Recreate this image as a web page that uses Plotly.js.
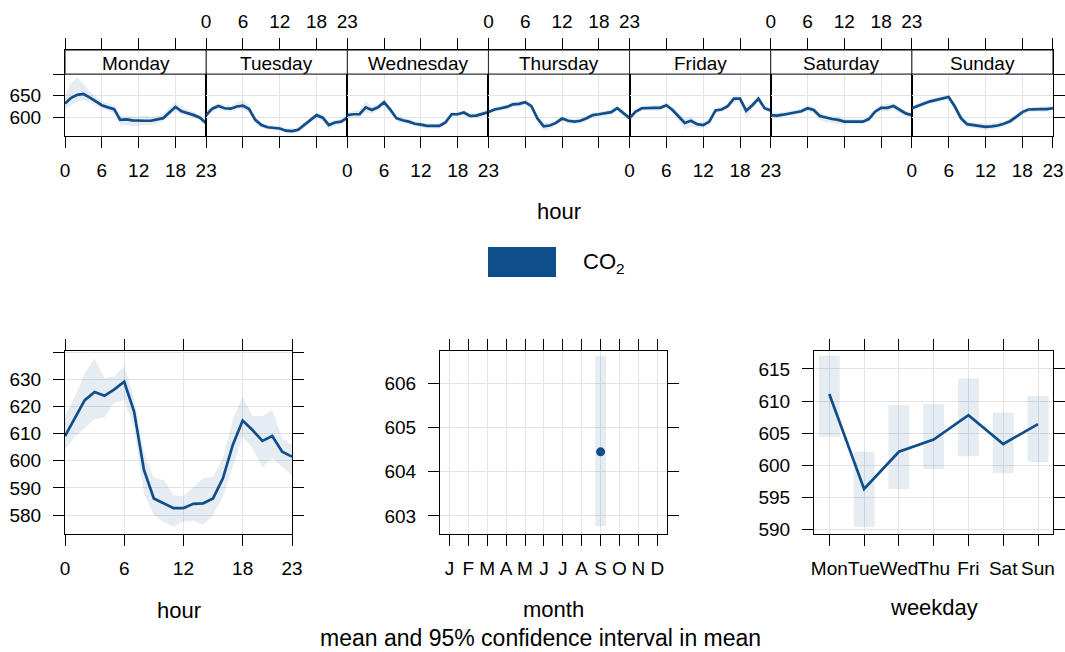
<!DOCTYPE html>
<html>
<head>
<meta charset="utf-8">
<script src="https://cdn.plot.ly/plotly-3.0.1.min.js"></script>
<style>
  html, body { margin: 0; padding: 0; background: #ffffff; }
  #chart { width: 1065px; height: 652px; }
</style>
</head>
<body>
<div id="chart"></div>
<script>
// ---- data: CO2 mean and 95% confidence interval ----
const hours = [0,1,2,3,4,5,6,7,8,9,10,11,12,13,14,15,16,17,18,19,20,21,22,23];
const dayNames = ['Monday','Tuesday','Wednesday','Thursday','Friday','Saturday','Sunday'];

// hour-of-day profile for each weekday (Monday ... Sunday)
const dayMean = [
  [632,645,652,654,646,637,628,623,619,594,595,593,592,592,592,595,598,611,624,614,610,605,599,586],
  [605,620,626,621,620,625,627,619,594,582,577,575,574,569,568,571,583,594,605,599,582,588,590,599],
  [605,607,607,623,617,623,635,618,598,593,590,585,583,580,580,580,588,607,607,611,603,604,608,612],
  [612,618,621,624,630,631,635,626,597,579,581,587,597,592,590,592,598,605,607,609,612,621,609,598],
  [598,613,621,622,622,622,628,617,602,587,592,584,582,590,616,618,626,643,643,615,628,643,621,616],
  [605,604,606,609,612,614,621,617,603,599,596,594,590,590,590,590,596,613,622,622,626,617,609,605],
  [621,627,632,637,640,643,647,625,598,584,582,580,578,579,581,585,591,601,612,618,619,619,619,621]
];
const dayLow = [
  [617,628,636,640,636,628,620,615,610,582,582,580,581,583,583,586,591,603,614,606,603,598,592,580],
  [598,613,619,614,613,617,618,611,587,576,571,569,568,563,562,565,577,588,598,592,572,581,584,593],
  [598,599,598,612,608,616,628,611,592,587,584,579,577,574,574,574,582,601,601,605,597,598,602,606],
  [605,612,615,618,624,625,629,619,588,569,573,581,591,586,584,586,592,599,601,603,606,615,603,591],
  [589,606,615,616,616,616,622,609,592,572,578,576,576,583,610,612,620,636,636,598,620,636,615,610],
  [599,598,600,603,606,608,615,609,593,588,586,585,583,584,584,584,590,606,614,613,617,609,602,599],
  [615,621,626,631,634,637,641,617,590,577,575,573,571,572,574,579,585,595,606,612,613,613,613,615]
];
const dayHigh = [
  [650,680,692,678,660,648,638,633,628,605,603,603,601,605,601,603,607,623,635,623,618,612,606,592],
  [611,627,633,628,627,634,641,628,601,588,583,581,580,575,574,577,589,600,611,606,590,594,596,605],
  [612,615,618,638,626,630,642,625,604,599,596,591,589,586,586,586,594,613,613,617,609,610,614,618],
  [618,624,627,630,636,637,641,632,604,587,588,593,603,598,596,598,604,611,613,615,618,627,615,604],
  [604,619,627,628,628,628,634,624,610,598,601,591,588,597,622,624,632,650,650,625,635,650,627,622],
  [612,610,612,615,618,620,627,623,611,606,603,601,597,596,596,596,603,620,629,631,633,625,616,611],
  [627,633,638,643,646,649,653,632,606,591,589,587,585,586,588,591,597,607,618,624,625,625,625,627]
];

// overall hour-of-day profile
const hourMean = [609.1,615.5,622.3,625.3,623.9,626.3,629.1,618.1,596.6,586.1,584.3,582.5,582.5,584.1,584.3,586.1,593.5,605.8,614.8,611.3,607.3,609.1,603.3,601.5];
const hourLow  = [604.0,608.9,612.0,615.3,616.0,621.4,622.4,612.0,588.0,580.0,577.5,575.7,577.5,577.9,576.3,580.0,586.8,597.8,608.9,604.6,597.6,600.9,597.8,594.7];
const hourHigh = [616.2,623.6,632.2,637.7,630.4,631.0,634.9,623.0,603.0,593.5,592.9,587.4,586.8,590.4,593.5,594.1,600.9,615.0,623.6,616.5,616.5,618.7,608.3,605.8];

// monthly means
const monthLabels = ['J','F','M','A','M','J','J','A','S','O','N','D'];
const monthTicks = [1,2,3,4,5,6,7,8,9,10,11,12];
const monthIndex = [9];
const monthMean = [604.45];
const monthLow = [602.77];
const monthHigh = [606.62];

// weekday means
const weekdayLabels = ['Mon','Tue','Wed','Thu','Fri','Sat','Sun'];
const weekdayTicks = [1,2,3,4,5,6,7];
const weekdayMean = [611.1,596.3,602.1,604.0,607.8,603.3,606.4];
const weekdayLow  = [604.45,590.4,596.3,599.4,601.4,598.8,600.5];
const weekdayHigh = [617.07,602.1,609.4,609.5,613.5,608.2,610.8];

// ---- styling ----
const W = 1065, H = 652;
const fx = p => p / W;          // pixel column -> paper x
const fy = p => 1 - p / H;      // pixel row -> paper y
const LINE = '#104E8B';
const BAND = 'rgba(16,78,139,0.11)';
const GRID = '#E4E4E4';
const FONT = 'Liberation Sans, Arial, Helvetica, sans-serif';
const TICK_FONT = { family: FONT, size: 19, color: '#000' };
const TITLE_FONT = { family: FONT, size: 22, color: '#000' };
const CAPTION_FONT = { family: FONT, size: 23, color: '#000' };

const traces = [];
const layout = {
  width: W, height: H,
  margin: { l: 0, r: 0, t: 0, b: 0 },
  paper_bgcolor: '#fff', plot_bgcolor: '#fff',
  showlegend: false,
  barmode: 'overlay',
  font: { family: FONT, color: '#000' },
  shapes: [], annotations: []
};

function frameAxis(extra) {
  return Object.assign({
    showline: true, linecolor: '#000', linewidth: 1,
    ticks: 'outside', ticklen: 11, tickcolor: '#000', tickwidth: 1,
    mirror: 'ticks', showgrid: true, gridcolor: GRID, gridwidth: 1,
    zeroline: false, tickfont: TICK_FONT, fixedrange: true, tickangle: 0
  }, extra);
}
// unlabelled tick marks (drawn as minor ticks)
const bareTicks = vals => ({ tickvals: vals, ticks: 'outside', ticklen: 11, tickcolor: '#000',
  tickwidth: 1, showgrid: true, gridcolor: GRID });

// ---- top row: hour of day within each weekday ----
const topRange = [557.4, 755.8];
const panelW = (1053 - 65) / 7;
dayNames.forEach((name, i) => {
  const n = i + 1;
  const xs = n === 1 ? 'x' : 'x' + n;
  const ys = n === 1 ? 'y' : 'y' + n;
  const xKey = n === 1 ? 'xaxis' : 'xaxis' + n;
  const yKey = n === 1 ? 'yaxis' : 'yaxis' + n;

  traces.push({ x: hours, y: dayLow[i], xaxis: xs, yaxis: ys, type: 'scatter', mode: 'lines',
    line: { width: 0, color: BAND }, hoverinfo: 'skip' });
  traces.push({ x: hours, y: dayHigh[i], xaxis: xs, yaxis: ys, type: 'scatter', mode: 'lines',
    fill: 'tonexty', fillcolor: BAND, line: { width: 0, color: BAND }, hoverinfo: 'skip' });
  traces.push({ x: hours, y: dayMean[i], xaxis: xs, yaxis: ys, type: 'scatter', mode: 'lines',
    line: { width: 2.7, color: LINE }, name: name });

  const x0 = 65 + panelW * i, x1 = 65 + panelW * (i + 1);
  layout[xKey] = frameAxis({
    domain: [fx(x0), fx(x1)], range: [0, 23], tickvals: [0, 6, 12, 18, 23],
    side: (i % 2 === 1) ? 'top' : 'bottom', anchor: ys,
    ticklabelstandoff: (i % 2 === 1) ? 2 : 6
  });
  const yAx = {
    domain: [fy(135.7), fy(50)], range: topRange, tickvals: [600, 650],
    showline: true, linecolor: '#000', linewidth: 1, mirror: true,
    showgrid: true, gridcolor: GRID, zeroline: false, anchor: xs,
    tickfont: TICK_FONT, fixedrange: true, ticks: '', showticklabels: false
  };
  if (n === 1) {
    Object.assign(yAx, { ticks: 'outside', ticklen: 11, tickcolor: '#000',
      showticklabels: true, ticklabelstandoff: 8, minor: bareTicks([700]) });
  }
  if (n === 7) {
    Object.assign(yAx, { side: 'right', ticks: 'outside', ticklen: 11, tickcolor: '#000',
      minor: bareTicks([700]) });
  }
  layout[yKey] = yAx;

  // strip with the weekday name
  layout.shapes.push({ type: 'rect', xref: xs, yref: ys, x0: 0, x1: 23, y0: 700, y1: topRange[1],
    fillcolor: '#fff', line: { color: '#000', width: 1 }, layer: 'above' });
  layout.annotations.push({ xref: xs, yref: 'paper', x: 11.5, y: fy(63), text: name,
    showarrow: false, xanchor: 'center', yanchor: 'middle', font: TICK_FONT });
});

// ---- bottom left: hour ----
traces.push({ x: hours, y: hourLow, xaxis: 'x8', yaxis: 'y8', type: 'scatter', mode: 'lines',
  line: { width: 0, color: BAND }, hoverinfo: 'skip' });
traces.push({ x: hours, y: hourHigh, xaxis: 'x8', yaxis: 'y8', type: 'scatter', mode: 'lines',
  fill: 'tonexty', fillcolor: BAND, line: { width: 0, color: BAND }, hoverinfo: 'skip' });
traces.push({ x: hours, y: hourMean, xaxis: 'x8', yaxis: 'y8', type: 'scatter', mode: 'lines',
  line: { width: 2.7, color: LINE } });
layout.xaxis8 = frameAxis({ domain: [fx(65), fx(292)], range: [0, 23], tickvals: [0, 6, 12, 18, 23],
  anchor: 'y8', ticklabelstandoff: 6 });
layout.yaxis8 = frameAxis({ domain: [fy(534), fy(350.7)], range: [573.0, 640.54],
  tickvals: [580, 590, 600, 610, 620, 630], minor: bareTicks([640]),
  anchor: 'x8', ticklabelstandoff: 8 });

// ---- bottom middle: month ----
traces.push({ x: monthIndex, base: monthLow, y: monthHigh.map((h, k) => h - monthLow[k]),
  xaxis: 'x9', yaxis: 'y9', type: 'bar', width: 0.57, marker: { color: BAND, line: { width: 0 } },
  hoverinfo: 'skip' });
traces.push({ x: monthIndex, y: monthMean, xaxis: 'x9', yaxis: 'y9', type: 'scatter', mode: 'markers',
  marker: { color: LINE, size: 9, symbol: 'circle' } });
layout.xaxis9 = frameAxis({ domain: [fx(440), fx(666.7)], range: [0.5, 12.5], tickvals: monthTicks,
  ticktext: monthLabels, anchor: 'y9', ticklabelstandoff: 6 });
layout.yaxis9 = frameAxis({ domain: [fy(534), fy(350.7)], range: [602.59, 606.74],
  tickvals: [603, 604, 605, 606], anchor: 'x9', ticklabelstandoff: 8 });

// ---- bottom right: weekday ----
traces.push({ x: weekdayTicks, base: weekdayLow, y: weekdayHigh.map((h, k) => h - weekdayLow[k]),
  xaxis: 'x10', yaxis: 'y10', type: 'bar', width: 0.6, marker: { color: BAND, line: { width: 0 } },
  hoverinfo: 'skip' });
traces.push({ x: weekdayTicks, y: weekdayMean, xaxis: 'x10', yaxis: 'y10', type: 'scatter', mode: 'lines',
  line: { width: 2.7, color: LINE } });
layout.xaxis10 = frameAxis({ domain: [fx(814), fx(1053.3)], range: [0.56, 7.44], tickvals: weekdayTicks,
  ticktext: weekdayLabels, anchor: 'y10', ticklabelstandoff: 6, tickangle: 0 });
layout.yaxis10 = frameAxis({ domain: [fy(534), fy(350.7)], range: [589.27, 617.85],
  tickvals: [590, 595, 600, 605, 610, 615], anchor: 'x10', ticklabelstandoff: 8 });

// ---- titles, legend key, caption ----
const note = (x, y, text, font, xanchor, yanchor) => layout.annotations.push({
  xref: 'paper', yref: 'paper', x: fx(x), y: fy(y), text: text, showarrow: false,
  xanchor: xanchor || 'center', yanchor: yanchor || 'middle', font: font, borderpad: 0
});
note(559, 211, 'hour', TITLE_FONT);
note(178.5, 610, 'hour', TITLE_FONT);
note(553, 609, 'month', TITLE_FONT);
note(933.6, 607, 'weekday', TITLE_FONT);
note(540.5, 652, 'mean and 95% confidence interval in mean', CAPTION_FONT, 'center', 'bottom');
note(582, 263, 'CO<sub>2</sub>', TITLE_FONT, 'left');
layout.shapes.push({ type: 'rect', xref: 'paper', yref: 'paper',
  x0: fx(488), x1: fx(556), y0: fy(277), y1: fy(247),
  fillcolor: LINE, line: { width: 0 } });

Plotly.newPlot('chart', traces, layout, { displayModeBar: false, staticPlot: true });
</script>
</body>
</html>
